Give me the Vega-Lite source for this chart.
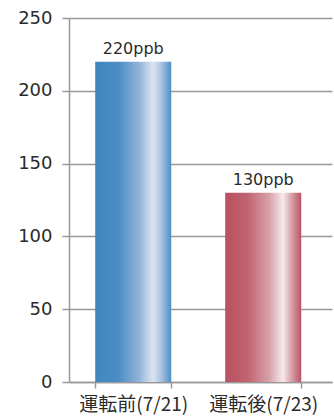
{
  "$schema": "https://vega.github.io/schema/vega-lite/v6.json",
  "width": 263,
  "height": 364,
  "autosize": {"type": "none"},
  "padding": {"left": 69, "top": 18, "right": 2, "bottom": 38},
  "background": "white",
  "data": {
    "values": [
      {"period": "運転前(7/21)", "ppb": 220, "label": "220ppb"},
      {"period": "運転後(7/23)", "ppb": 130, "label": "130ppb"}
    ]
  },
  "encoding": {
    "x": {
      "field": "period",
      "type": "nominal",
      "sort": null,
      "title": null,
      "scale": {"paddingInner": 0.415, "paddingOuter": 0.219, "align": 0.46},
      "axis": {
        "labelAngle": 0,
        "labelFont": "Noto Sans CJK JP",
        "labelFontSize": 19,
        "labelColor": "#2b2b2b",
        "labelPadding": 7,
        "tickBand": "extent",
        "tickSize": 6,
        "tickColor": "#999999",
        "tickWidth": 1.5,
        "domainColor": "#999999",
        "domainWidth": 1.5
      }
    },
    "y": {
      "field": "ppb",
      "type": "quantitative",
      "title": null,
      "scale": {"domain": [0, 250], "nice": false},
      "axis": {
        "values": [0, 50, 100, 150, 200, 250],
        "labelFont": "DejaVu Sans",
        "labelFontSize": 18,
        "labelColor": "#2b2b2b",
        "labelPadding": 10,
        "tickSize": 7,
        "tickColor": "#999999",
        "tickWidth": 1.5,
        "domainColor": "#999999",
        "domainWidth": 1.5,
        "grid": true,
        "gridColor": "#999999",
        "gridWidth": 1.5
      }
    }
  },
  "layer": [
    {
      "transform": [{"filter": "datum.period === '運転前(7/21)'"}],
      "mark": {
        "type": "bar",
        "color": {
          "gradient": "linear",
          "x1": 0, "y1": 0, "x2": 1, "y2": 0,
          "stops": [
            {"offset": 0, "color": "#3f87c0"},
            {"offset": 0.3, "color": "#4a8cc3"},
            {"offset": 0.58, "color": "#93b3d8"},
            {"offset": 0.76, "color": "#dce5f1"},
            {"offset": 0.88, "color": "#a4bfdf"},
            {"offset": 1, "color": "#4d8ec6"}
          ]
        }
      }
    },
    {
      "transform": [{"filter": "datum.period === '運転後(7/23)'"}],
      "mark": {
        "type": "bar",
        "color": {
          "gradient": "linear",
          "x1": 0, "y1": 0, "x2": 1, "y2": 0,
          "stops": [
            {"offset": 0, "color": "#b94f5f"},
            {"offset": 0.3, "color": "#c16571"},
            {"offset": 0.58, "color": "#d7a2aa"},
            {"offset": 0.76, "color": "#f6e9ec"},
            {"offset": 0.88, "color": "#d49ba4"},
            {"offset": 1, "color": "#bb5464"}
          ]
        }
      }
    },
    {
      "mark": {
        "type": "text",
        "baseline": "alphabetic",
        "dy": -8,
        "font": "DejaVu Sans",
        "fontSize": 16,
        "color": "#2b2b2b"
      },
      "encoding": {"text": {"field": "label"}}
    }
  ],
  "config": {"view": {"stroke": null}}
}
